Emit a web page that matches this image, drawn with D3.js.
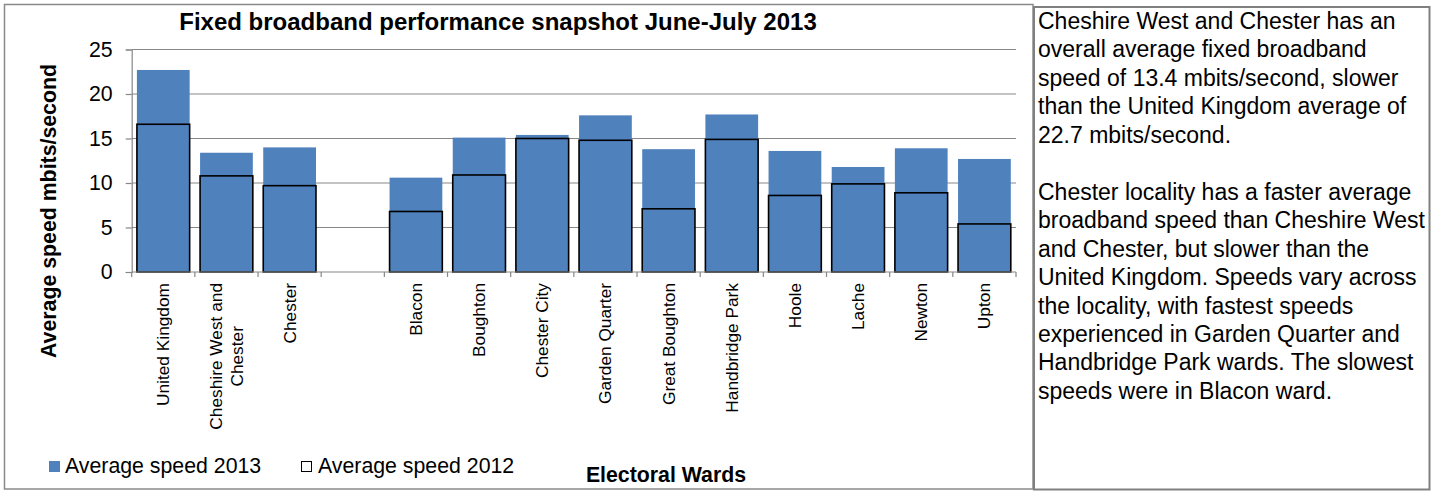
<!DOCTYPE html>
<html>
<head>
<meta charset="utf-8">
<script src="https://cdnjs.cloudflare.com/ajax/libs/d3/7.8.5/d3.min.js"></script>
<style>
  html, body { margin: 0; padding: 0; background: #fff; }
  svg { display: block; font-family: "Liberation Sans", Arial, sans-serif; }
</style>
</head>
<body>
<svg id="chart" width="1431" height="491"></svg>
<script>
// ---- data ----
const categories = ["United Kingdom", "Cheshire West and Chester", "Chester", "",
  "Blacon", "Boughton", "Chester City", "Garden Quarter", "Great Boughton",
  "Handbridge Park", "Hoole", "Lache", "Newton", "Upton"];
const labelLines = [["United Kingdom"], ["Cheshire West and", "Chester"], ["Chester"], [],
  ["Blacon"], ["Boughton"], ["Chester City"], ["Garden Quarter"], ["Great Boughton"],
  ["Handbridge Park"], ["Hoole"], ["Lache"], ["Newton"], ["Upton"]];
const speed2013 = [22.7, 13.4, 14.0, null, 10.6, 15.1, 15.4, 17.6, 13.8, 17.7, 13.6, 11.8, 13.9, 12.7];
const speed2012 = [16.6, 10.8, 9.7, null, 6.8, 10.9, 15.0, 14.8, 7.1, 14.9, 8.6, 9.9, 8.9, 5.4];
const yTicks = [0, 5, 10, 15, 20, 25];
const seriesNames = ["Average speed 2013", "Average speed 2012"];
const chartTitle = "Fixed broadband performance snapshot June-July 2013";
const yTitle = "Average speed mbits/second";
const xTitle = "Electoral Wards";
const noteLines = [
  "Cheshire West and Chester has an",
  "overall average fixed broadband",
  "speed of 13.4 mbits/second, slower",
  "than the United Kingdom average of",
  "22.7 mbits/second.",
  "",
  "Chester locality has a faster average",
  "broadband speed than Cheshire West",
  "and Chester, but slower than the",
  "United Kingdom. Speeds vary across",
  "the locality, with fastest speeds",
  "experienced in Garden Quarter and",
  "Handbridge Park wards. The slowest",
  "speeds were in Blacon ward."
];

// ---- layout ----
const svg = d3.select("#chart");
const blue = "#4F81BD";
const grid = "#878787";
const plot = { left: 131.7, right: 1016, top: 49.5, bottom: 272 };

// frames
svg.append("rect").attr("x", 4.5).attr("y", 4.5).attr("width", 1028.5).attr("height", 484.5)
  .attr("fill", "#fff").attr("stroke", "#8a8a8a").attr("stroke-width", 1.5);
svg.append("rect").attr("x", 1034).attr("y", 7).attr("width", 395.5).attr("height", 482.5)
  .attr("fill", "#fff").attr("stroke", "#808080").attr("stroke-width", 2);

const x = d3.scaleBand().domain(categories.map((c, i) => i))
  .range([plot.left, plot.right]).paddingInner(0.165).paddingOuter(0.0825);
const y = d3.scaleLinear().domain([0, 25]).range([plot.bottom, plot.top]);

// gridlines
svg.append("g").selectAll("line").data(yTicks.filter(t => t > 0)).join("line")
  .attr("x1", plot.left).attr("x2", plot.right)
  .attr("y1", d => y(d)).attr("y2", d => y(d))
  .attr("stroke", grid).attr("stroke-width", 1.2);

// y axis
const yAxis = svg.append("g").attr("transform", `translate(${plot.left},0)`)
  .call(d3.axisLeft(y).tickValues(yTicks).tickSize(6).tickPadding(13));
yAxis.select(".domain").attr("stroke", grid).attr("stroke-width", 1.2);
yAxis.selectAll(".tick line").attr("stroke", grid).attr("stroke-width", 1.2);
yAxis.selectAll(".tick text").attr("font-size", "21.3px").attr("fill", "#000")
  .attr("font-family", "'Liberation Sans', Arial, sans-serif");

// bars 2013
const idx = categories.map((c, i) => i);
svg.append("g").selectAll("rect").data(idx.filter(i => speed2013[i] != null)).join("rect")
  .attr("x", i => x(i)).attr("width", x.bandwidth())
  .attr("y", i => y(speed2013[i])).attr("height", i => y(0) - y(speed2013[i]))
  .attr("fill", blue);
// bars 2012 (outline only)
svg.append("g").selectAll("rect").data(idx.filter(i => speed2012[i] != null)).join("rect")
  .attr("x", i => x(i)).attr("width", x.bandwidth())
  .attr("y", i => y(speed2012[i])).attr("height", i => y(0) - y(speed2012[i]))
  .attr("fill", "none").attr("stroke", "#000").attr("stroke-width", 1.6);

// x axis line & boundary ticks
const half = (x.step() - x.bandwidth()) / 2;
const bounds = idx.map(i => x(i) - half).concat([x(idx.length - 1) + x.bandwidth() + half]);
svg.append("line").attr("x1", plot.left).attr("x2", plot.right)
  .attr("y1", plot.bottom).attr("y2", plot.bottom).attr("stroke", grid).attr("stroke-width", 1.2);
svg.append("g").selectAll("line").data(bounds).join("line")
  .attr("x1", d => d).attr("x2", d => d).attr("y1", plot.bottom).attr("y2", plot.bottom + 5)
  .attr("stroke", grid).attr("stroke-width", 1.2);

// category labels (rotated)
const labTop = 283;
const lineGap = 21.5;
idx.forEach(i => {
  const lines = labelLines[i];
  if (!lines.length) return;
  const cx = x(i) + x.bandwidth() / 2;
  const g = svg.append("g");
  const texts = lines.map((ln, k) => {
    const off = (k - (lines.length - 1) / 2) * lineGap;
    return g.append("text").text(ln).attr("font-size", "17.3px").attr("fill", "#000")
      .attr("text-anchor", "middle")
      .attr("dy", "0.35em")
      .datum(off);
  });
  const maxW = d3.max(texts, t => t.node().getComputedTextLength());
  const cy = labTop + maxW / 2;
  texts.forEach(t => {
    const off = t.datum();
    t.attr("transform", `translate(${cx + off},${cy}) rotate(-90)`);
  });
});

// titles
svg.append("text").attr("x", 498).attr("y", 30).attr("text-anchor", "middle")
  .attr("font-size", "24px").attr("font-weight", "bold").text(chartTitle);
svg.append("text").attr("transform", "translate(56,211) rotate(-90)").attr("text-anchor", "middle")
  .attr("font-size", "21.3px").attr("font-weight", "bold").text(yTitle);
svg.append("text").attr("x", 666).attr("y", 482).attr("text-anchor", "middle")
  .attr("font-size", "21.3px").attr("font-weight", "bold").text(xTitle);

// legend
const legend = svg.append("g");
legend.append("rect").attr("x", 49).attr("y", 461).attr("width", 11).attr("height", 11).attr("fill", blue);
legend.append("text").attr("x", 65).attr("y", 473).attr("font-size", "21.3px").text(seriesNames[0]);
legend.append("rect").attr("x", 301.5).attr("y", 461.5).attr("width", 10).attr("height", 10)
  .attr("fill", "#fff").attr("stroke", "#000").attr("stroke-width", 1);
legend.append("text").attr("x", 318).attr("y", 473).attr("font-size", "21.3px").text(seriesNames[1]);

// side note
const note = svg.append("text").attr("font-size", "23px").attr("fill", "#000");
noteLines.forEach((ln, k) => {
  note.append("tspan").attr("x", 1038).attr("y", 29 + k * 28.45).text(ln);
});
</script>
</body>
</html>
